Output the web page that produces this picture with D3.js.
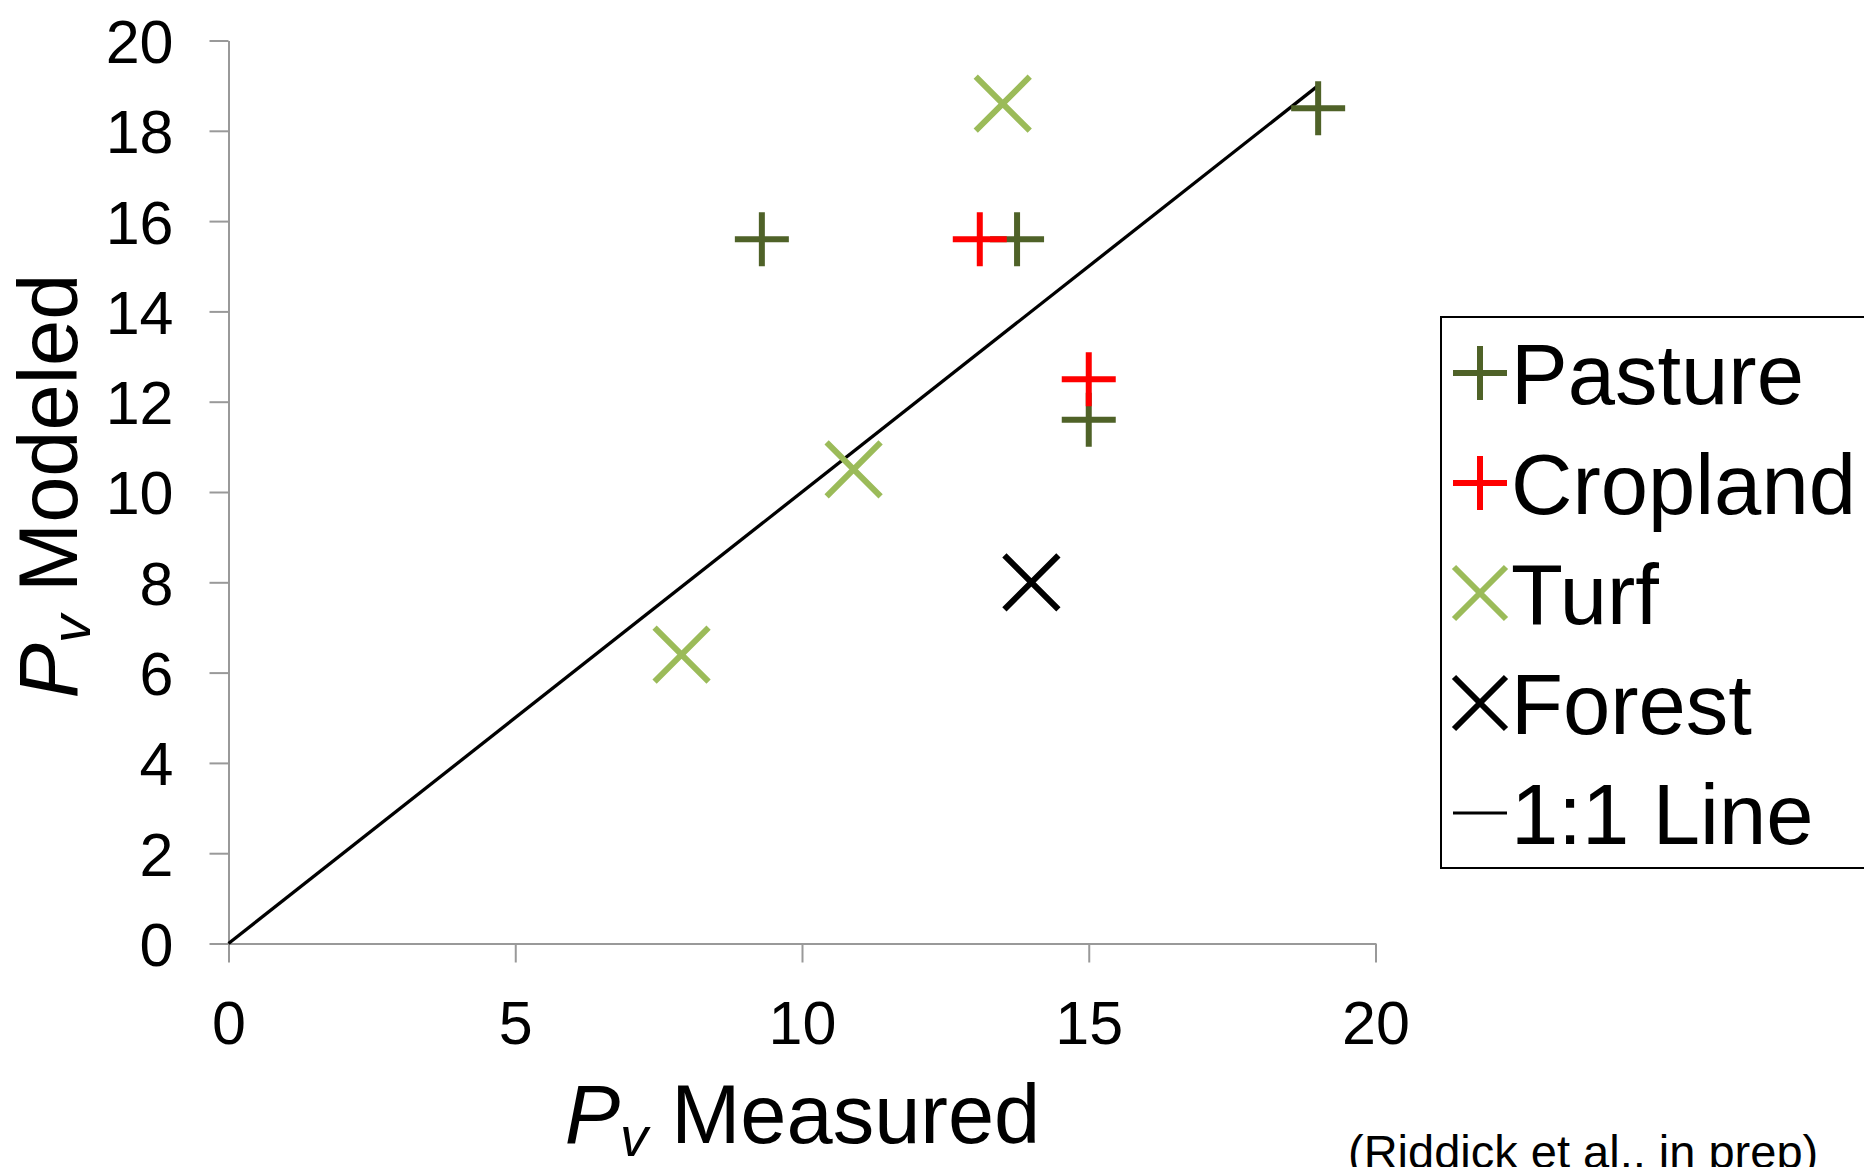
<!DOCTYPE html>
<html>
<head>
<meta charset="utf-8">
<script src="https://cdn.jsdelivr.net/npm/d3@7"></script>
<style>
body { margin: 0; background: #fff; }
svg { display: block; font-family: "Liberation Sans", Arial, sans-serif; }
</style>
</head>
<body>
<svg id="chart" width="1864" height="1167"></svg>
<script>
// values
var pastureX = [9.3, 13.75, 19.0, 15.0];
var pastureY = [15.6, 15.6, 18.5, 11.6];
var croplandX = [13.1, 15.0];
var croplandY = [15.6, 12.5];
var turfX = [13.5, 10.9, 7.9];
var turfY = [18.6, 10.5, 6.4];
var forestX = [14.0];
var forestY = [8.0];
var lineX = [0, 19];
var lineY = [0, 19];
var xTicks = [0, 5, 10, 15, 20];
var yTicks = [0, 2, 4, 6, 8, 10, 12, 14, 16, 18, 20];
var legendNames = ["Pasture", "Cropland", "Turf", "Forest", "1:1 Line"];
var legendShapes = ["plus", "plus", "cross", "cross", "line"];
var legendColors = ["#4F6228", "#FF0000", "#9BBB59", "#000000", "#000000"];

var svg = d3.select("#chart");
svg.append("rect").attr("width", 1864).attr("height", 1167).attr("fill", "#fff");

var x = d3.scaleLinear().domain([0, 20]).range([228.5, 1375.5]);
var y = d3.scaleLinear().domain([0, 20]).range([943.5, 40.5]);

function zip(xs, ys){
	return xs.map(function(v, i){ return {x: v, y: ys[i]}; });
}

// axes
var xAxis = d3.axisBottom(x).tickValues(xTicks).tickSize(19).tickSizeOuter(0);
var gx = svg.append("g").attr("transform", "translate(0," + y(0) + ")").call(xAxis);
gx.selectAll("text").attr("y", 100).attr("dy", 0)
	.attr("font-size", 61).attr("fill", "#000").attr("font-family", null);

var yAxis = d3.axisLeft(y).tickValues(yTicks).tickSize(19).tickPadding(36).tickSizeOuter(0);
var gy = svg.append("g").attr("transform", "translate(" + x(0) + ",0)").call(yAxis);
gy.selectAll("text").attr("dy", "0.36em")
	.attr("font-size", 61).attr("fill", "#000").attr("font-family", null);

svg.selectAll(".domain, .tick line").attr("stroke", "#999").attr("stroke-width", 2);

// 1:1 line
var line = d3.line().x(function(d){ return x(d.x); }).y(function(d){ return y(d.y); });
svg.append("path").datum(zip(lineX, lineY))
	.attr("d", line).attr("fill", "none").attr("stroke", "#000").attr("stroke-width", 3.3);

function marker(shape, s){
	var h = s / 2;
	if(shape == "plus"){
		return "M" + (-h) + ",0H" + h + "M0," + (-h) + "V" + h;
	}
	if(shape == "cross"){
		return "M" + (-h) + "," + (-h) + "L" + h + "," + h + "M" + (-h) + "," + h + "L" + h + "," + (-h);
	}
	return "M" + (-h) + ",0H" + h;
}

function drawSeries(xs, ys, shape, color, size){
	svg.append("g").selectAll("path").data(zip(xs, ys)).enter().append("path")
		.attr("transform", function(d){ return "translate(" + x(d.x) + "," + y(d.y) + ")"; })
		.attr("d", marker(shape, size))
		.attr("fill", "none").attr("stroke", color).attr("stroke-width", 6);
}
drawSeries(pastureX, pastureY, "plus", legendColors[0], 54);
drawSeries(croplandX, croplandY, "plus", legendColors[1], 54);
drawSeries(turfX, turfY, "cross", legendColors[2], 54);
drawSeries(forestX, forestY, "cross", legendColors[3], 54);

// axis titles
var xt = svg.append("text").attr("x", 802.5).attr("y", 1143)
	.attr("text-anchor", "middle").attr("font-size", 83);
xt.append("tspan").attr("font-style", "italic").text("P");
xt.append("tspan").attr("font-style", "italic").attr("font-size", 56).attr("dy", 13).text("v");
xt.append("tspan").attr("dy", -13).text(" Measured");

var yt = svg.append("text").attr("transform", "translate(77,486) rotate(-90)")
	.attr("text-anchor", "middle").attr("font-size", 83);
yt.append("tspan").attr("font-style", "italic").text("P");
yt.append("tspan").attr("font-style", "italic").attr("font-size", 56).attr("dy", 13).text("v");
yt.append("tspan").attr("dy", -13).text(" Modeled");

// legend
svg.append("rect").attr("x", 1441).attr("y", 317).attr("width", 500).attr("height", 551)
	.attr("fill", "#fff").attr("stroke", "#000").attr("stroke-width", 2);
var lg = svg.append("g").selectAll("g").data(legendNames).enter().append("g")
	.attr("transform", function(d, i){ return "translate(0," + (404 + i * 110) + ")"; });
lg.append("path")
	.attr("transform", "translate(1480,-31)")
	.attr("d", function(d, i){ return marker(legendShapes[i], legendShapes[i] == "cross" ? 52 : 54); })
	.attr("fill", "none")
	.attr("stroke", function(d, i){ return legendColors[i]; })
	.attr("stroke-width", function(d, i){ return legendShapes[i] == "line" ? 3 : 6; });
lg.append("text").attr("x", 1511).attr("font-size", 85).text(function(d){ return d; });

svg.append("text").attr("x", 1348).attr("y", 1168).attr("font-size", 47)
	.text("(Riddick et al., in prep)");
</script>
</body>
</html>
